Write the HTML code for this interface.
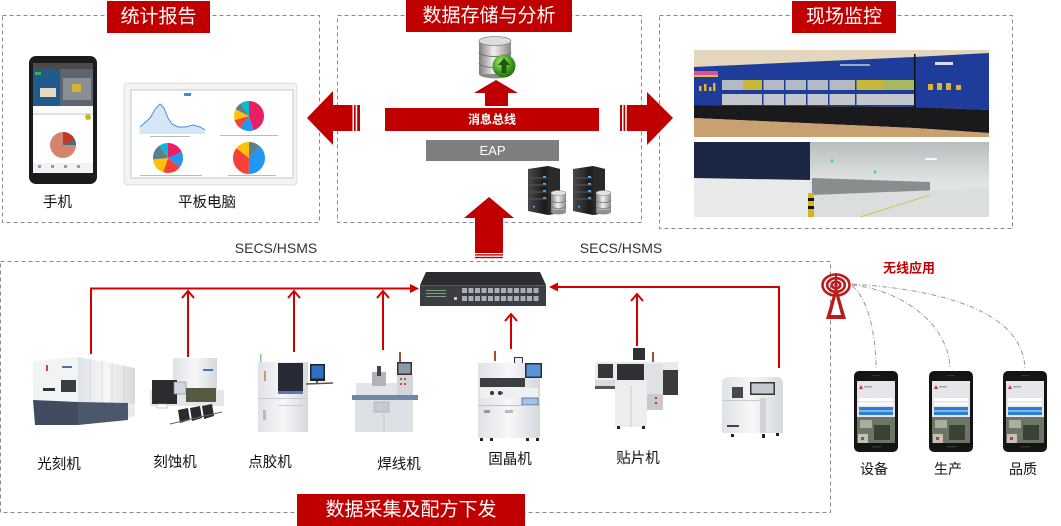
<!DOCTYPE html>
<html><head><meta charset="utf-8">
<style>
html,body{margin:0;padding:0;background:#fff;}
body{width:1061px;height:526px;overflow:hidden;position:relative;}
svg{position:absolute;left:0;top:0;}
text{font-family:"Liberation Sans","Noto Sans CJK SC",sans-serif;}
</style></head><body>
<svg width="1061" height="526" viewBox="0 0 1061 526" xmlns="http://www.w3.org/2000/svg">
<defs>
<linearGradient id="cyl" x1="0" x2="1" y1="0" y2="0">
<stop offset="0" stop-color="#7d7d7d"/><stop offset="0.45" stop-color="#f0f0f0"/><stop offset="1" stop-color="#8a8a8a"/>
</linearGradient>
<radialGradient id="grn" cx="0.4" cy="0.35" r="0.7">
<stop offset="0" stop-color="#b8f07a"/><stop offset="0.6" stop-color="#3e9e1e"/><stop offset="1" stop-color="#1f6a10"/>
</radialGradient>
<linearGradient id="srv" x1="0" x2="1" y1="0" y2="0">
<stop offset="0" stop-color="#4a4a4a"/><stop offset="0.5" stop-color="#1c1c1c"/><stop offset="1" stop-color="#333"/>
</linearGradient>
<linearGradient id="wh" x1="0" x2="1" y1="0" y2="0">
<stop offset="0" stop-color="#dfe2e6"/><stop offset="0.5" stop-color="#f6f7f8"/><stop offset="1" stop-color="#d5d8dc"/>
</linearGradient>
<linearGradient id="ware" x1="0" x2="0" y1="0" y2="1">
<stop offset="0" stop-color="#b9bcbd"/><stop offset="0.5" stop-color="#dfe2e2"/><stop offset="1" stop-color="#e9ecec"/>
</linearGradient>
</defs>

<!-- dashed frames -->
<g fill="none" stroke="#8a8a8a" stroke-width="1" stroke-dasharray="4 3">
<rect x="2.5" y="15.5" width="317" height="207"/>
<rect x="337.5" y="15.5" width="304" height="207"/>
<rect x="659.5" y="15.5" width="353" height="213"/>
<rect x="0.5" y="261.5" width="830" height="251"/>
</g>

<!-- title boxes -->
<g fill="#c00000">
<rect x="107" y="1" width="103" height="32"/>
<rect x="406" y="0" width="166" height="32"/>
<rect x="792" y="1" width="104" height="32"/>
<rect x="297" y="494" width="228" height="32"/>
</g>
<g fill="#fff" font-size="19" text-anchor="middle" dominant-baseline="central">
<text x="158.5" y="17">统计报告</text>
<text x="489" y="16">数据存储与分析</text>
<text x="844" y="17">现场监控</text>
<text x="411" y="510">数据采集及配方下发</text>
</g>

<!-- ===== top-left: phone ===== -->
<rect x="29" y="56" width="68" height="128" rx="7" fill="#1b1b1b"/>
<rect x="33" y="63" width="60" height="110" fill="#fff"/>
<rect x="33" y="63" width="60" height="6" fill="#4a4a4a"/>
<rect x="33" y="69" width="27" height="37" fill="#1f5b8c"/>
<rect x="35" y="72" width="6" height="3" fill="#3bb04a"/>
<rect x="40" y="88" width="16" height="9" fill="#e8d6c0"/>
<rect x="60" y="69" width="33" height="37" fill="#5c6670"/>
<rect x="63" y="78" width="28" height="22" fill="#8a8f94"/>
<rect x="72" y="84" width="9" height="8" fill="#d9b23a"/>
<rect x="33" y="106" width="60" height="7" fill="#fafafa"/>
<rect x="33" y="113" width="60" height="2" fill="#e0e0e0"/>
<circle cx="63" cy="145" r="13" fill="#d3846c"/>
<path d="M63,145 L63,132 A13,13 0 0,1 75,140 Z" fill="#c0392b"/>
<path d="M63,145 L75,140 A13,13 0 0,1 76,145 Z" fill="#3f6f7f"/>
<circle cx="88" cy="117" r="3" fill="#c8b820"/>
<rect x="33" y="163" width="60" height="10" fill="#f2f2f2"/>
<g fill="#7aa0c8"><rect x="38" y="165" width="3" height="3"/><rect x="51" y="165" width="3" height="3"/><rect x="64" y="165" width="3" height="3"/><rect x="77" y="165" width="3" height="3"/></g>

<!-- tablet -->
<rect x="124" y="83" width="173" height="102" rx="4" fill="#f3f3f3" stroke="#dcdcdc"/>
<rect x="131" y="90" width="162" height="88" fill="#fff" stroke="#c8c8c8"/>
<rect x="184" y="93" width="7" height="3" fill="#3a8ee0"/>
<path d="M139,134 L140,127 L150,118 L156,108 L160,104 L164,108 L168,118 L172,124 L178,127 L185,127 L193,125 L200,127 L205,130 L205,134 Z" fill="#d4e6f7"/>
<path d="M140,127 L150,118 L156,108 L160,104 L164,108 L168,118 L172,124 L178,127 L185,127 L193,125 L200,127 L205,130" fill="none" stroke="#4a90d9" stroke-width="1"/>
<g transform="translate(249,116) rotate(-90)" fill="none" stroke-width="15">
<circle r="7.5" stroke="#e91e63" stroke-dasharray="21.2 47.12"/>
<circle r="7.5" stroke="#2196f3" stroke-dasharray="7.07 47.12" stroke-dashoffset="-21.2"/>
<circle r="7.5" stroke="#f44336" stroke-dasharray="4.71 47.12" stroke-dashoffset="-28.27"/>
<circle r="7.5" stroke="#ffc107" stroke-dasharray="5.65 47.12" stroke-dashoffset="-32.98"/>
<circle r="7.5" stroke="#607d8b" stroke-dasharray="3.77 47.12" stroke-dashoffset="-38.63"/>
<circle r="7.5" stroke="#00bcd4" stroke-dasharray="4.71 47.12" stroke-dashoffset="-42.4"/>
</g>
<g transform="translate(168,158) rotate(-90)" fill="none" stroke-width="15">
<circle r="7.5" stroke="#e91e63" stroke-dasharray="8.48 47.12"/>
<circle r="7.5" stroke="#2196f3" stroke-dasharray="8.01 47.12" stroke-dashoffset="-8.48"/>
<circle r="7.5" stroke="#f44336" stroke-dasharray="9.42 47.12" stroke-dashoffset="-16.49"/>
<circle r="7.5" stroke="#ffc107" stroke-dasharray="8.48 47.12" stroke-dashoffset="-25.91"/>
<circle r="7.5" stroke="#607d8b" stroke-dasharray="8.01 47.12" stroke-dashoffset="-34.39"/>
<circle r="7.5" stroke="#00bcd4" stroke-dasharray="4.71 47.12" stroke-dashoffset="-42.4"/>
</g>
<g transform="translate(249,158) rotate(-90)" fill="none" stroke-width="16">
<circle r="8" stroke="#607d8b" stroke-dasharray="6.03 50.27"/>
<circle r="8" stroke="#2196f3" stroke-dasharray="19.1 50.27" stroke-dashoffset="-6.03"/>
<circle r="8" stroke="#f44336" stroke-dasharray="17.6 50.27" stroke-dashoffset="-25.13"/>
<circle r="8" stroke="#ffc107" stroke-dasharray="7.54 50.27" stroke-dashoffset="-42.73"/>
</g>
<g fill="#bbb"><rect x="150" y="136" width="40" height="1"/><rect x="220" y="135" width="58" height="1"/><rect x="140" y="175" width="62" height="1"/><rect x="228" y="175" width="48" height="1"/></g>

<g fill="#111" font-size="14.5" text-anchor="middle" dominant-baseline="central">
<text x="57.5" y="203">手机</text>
<text x="207" y="203">平板电脑</text>
</g>

<!-- ===== top-middle ===== -->
<rect x="479" y="41" width="32" height="33" fill="url(#cyl)"/>
<ellipse cx="495" cy="74" rx="16" ry="4.5" fill="#8a8a8a"/>
<rect x="479" y="41" width="32" height="33" fill="url(#cyl)"/>
<path d="M479,52 A16,4.5 0 0,0 511,52 M479,63 A16,4.5 0 0,0 511,63" fill="none" stroke="#707070" stroke-width="1"/>
<ellipse cx="495" cy="41" rx="16" ry="4.5" fill="#dcdcdc" stroke="#8a8a8a" stroke-width="0.8"/>
<circle cx="504" cy="66" r="11.5" fill="url(#grn)"/>
<path d="M504,58 L510,65 L506.5,65 L506.5,73 L501.5,73 L501.5,65 L498,65 Z" fill="#1d5a10"/>

<g fill="#c00000">
<polygon points="496,80 518,93 508,93 508,106 485,106 485,93 474,93"/>
<rect x="385" y="108" width="214" height="23"/>
<polygon points="307,118 333,91 333,105 352.5,105 352.5,131 333,131 333,145"/>
<rect x="354" y="105" width="1.7" height="26"/>
<rect x="357.2" y="105" width="2.8" height="26"/>
<rect x="620" y="105" width="2" height="26"/>
<rect x="623.5" y="105" width="1.7" height="26"/>
<polygon points="626.8,105 647,105 647,92 673,118 647,145 647,131 626.8,131"/>
<polygon points="489,197 514,218 503,218 503,253 475,253 475,218 464,218"/>
<rect x="475" y="254.2" width="28" height="1.4"/>
<rect x="475" y="256.8" width="28" height="1.4"/>
</g>
<text x="492" y="119.5" fill="#fff" font-size="12" font-weight="bold" text-anchor="middle" dominant-baseline="central">消息总线</text>
<rect x="426" y="140" width="133" height="21" fill="#7f7f7f"/>
<text x="492.5" y="150.5" fill="#fff" font-size="13" text-anchor="middle" dominant-baseline="central">EAP</text>

<!-- servers -->
<g>
<polygon points="528,169 548,166 560,169 560,213 548,215 528,211" fill="url(#srv)"/>
<polygon points="548,166 560,169 560,213 548,215" fill="#2a2a2a"/>
<g stroke="#5a5a5a" stroke-width="1"><line x1="530" y1="178" x2="547" y2="178"/><line x1="530" y1="185" x2="547" y2="185"/><line x1="530" y1="192" x2="547" y2="192"/><line x1="530" y1="199" x2="547" y2="199"/></g>
<g fill="#4fb0ff"><rect x="543" y="176" width="3" height="1.5"/><rect x="543" y="183" width="3" height="1.5"/><rect x="543" y="190" width="3" height="1.5"/><rect x="543" y="197" width="3" height="1.5"/><rect x="533" y="206" width="2" height="1.5"/></g>
<rect x="551" y="193" width="15" height="19" fill="url(#cyl)"/>
<ellipse cx="558.5" cy="193" rx="7.5" ry="2.5" fill="#e2e2e2" stroke="#888" stroke-width="0.6"/>
<ellipse cx="558.5" cy="212" rx="7.5" ry="2.5" fill="#909090"/>
<path d="M551,200 A7.5,2.5 0 0,0 566,200 M551,206 A7.5,2.5 0 0,0 566,206" fill="none" stroke="#777" stroke-width="0.7"/>
</g>
<g transform="translate(45,0)">
<polygon points="528,169 548,166 560,169 560,213 548,215 528,211" fill="url(#srv)"/>
<polygon points="548,166 560,169 560,213 548,215" fill="#2a2a2a"/>
<g stroke="#5a5a5a" stroke-width="1"><line x1="530" y1="178" x2="547" y2="178"/><line x1="530" y1="185" x2="547" y2="185"/><line x1="530" y1="192" x2="547" y2="192"/><line x1="530" y1="199" x2="547" y2="199"/></g>
<g fill="#4fb0ff"><rect x="543" y="176" width="3" height="1.5"/><rect x="543" y="183" width="3" height="1.5"/><rect x="543" y="190" width="3" height="1.5"/><rect x="543" y="197" width="3" height="1.5"/><rect x="533" y="206" width="2" height="1.5"/></g>
<rect x="551" y="193" width="15" height="19" fill="url(#cyl)"/>
<ellipse cx="558.5" cy="193" rx="7.5" ry="2.5" fill="#e2e2e2" stroke="#888" stroke-width="0.6"/>
<ellipse cx="558.5" cy="212" rx="7.5" ry="2.5" fill="#909090"/>
<path d="M551,200 A7.5,2.5 0 0,0 566,200 M551,206 A7.5,2.5 0 0,0 566,206" fill="none" stroke="#777" stroke-width="0.7"/>
</g>

<!-- ===== top-right photos ===== -->
<rect x="694" y="50" width="295" height="87" fill="#e4d6bd"/>
<polygon points="694,67 914,57 989,53 989,110 914,107 694,105" fill="#1e3c9a"/>
<polygon points="694,105 914,107 989,110 989,133 914,128 694,118" fill="#1a1a1c"/>
<polygon points="694,118 914,128 989,133 989,137 694,137" fill="#c9a070"/>
<rect x="722" y="80" width="192" height="10" fill="#b4b9c2"/>
<rect x="722" y="94" width="192" height="11" fill="#c2c6cd"/>
<rect x="743" y="80" width="20" height="10" fill="#c8b838"/>
<rect x="856" y="80" width="27" height="10" fill="#c8b838"/>
<rect x="883" y="80" width="31" height="10" fill="#a8b860"/>
<g fill="#1e3c9a"><rect x="762" y="80" width="1.5" height="25"/><rect x="784" y="80" width="1.5" height="25"/><rect x="806" y="80" width="1.5" height="25"/><rect x="828" y="80" width="1.5" height="25"/><rect x="855" y="80" width="1.5" height="25"/></g>
<rect x="694" y="71" width="24" height="4" fill="#e04e9a"/>
<rect x="694" y="75" width="24" height="2" fill="#d8c040"/>
<g fill="#e0b030"><rect x="699" y="86" width="2.5" height="5"/><rect x="704" y="84" width="2.5" height="7"/><rect x="709" y="87" width="2.5" height="4"/><rect x="713" y="83" width="2.5" height="8"/></g>
<g fill="#e0b030"><rect x="928" y="84" width="5" height="6"/><rect x="937" y="83" width="5" height="7"/><rect x="946" y="83" width="5" height="7"/><rect x="956" y="85" width="5" height="5"/></g>
<rect x="914" y="54" width="1.5" height="56" fill="#111"/>
<rect x="840" y="64" width="30" height="2" fill="#9ab"/>
<rect x="935" y="62" width="18" height="3" fill="#dde"/>

<rect x="694" y="142" width="295" height="75" fill="url(#ware)"/>
<rect x="694" y="142" width="116" height="75" fill="#e9eaea"/>
<polygon points="694,142 810,142 810,180 694,178" fill="#1c2746"/>
<polygon points="812,178 930,182 930,193 812,195" fill="#8a8d8e"/>
<polygon points="812,195 989,188 989,217 812,217" fill="#dadede"/>
<line x1="860" y1="217" x2="930" y2="195" stroke="#d8c050" stroke-width="1"/>
<rect x="808" y="193" width="6" height="24" fill="#d8b520"/>
<rect x="808" y="198" width="6" height="3" fill="#111"/><rect x="808" y="206" width="6" height="3" fill="#111"/>
<circle cx="832" cy="161" r="1.5" fill="#3ee06a"/><circle cx="875" cy="172" r="1.5" fill="#3ee06a"/>
<rect x="925" y="158" width="12" height="2" fill="#f6f6f6"/>

<!-- ===== bottom connectors ===== -->
<text x="276" y="248" fill="#333" font-size="14" text-anchor="middle" dominant-baseline="central">SECS/HSMS</text>
<text x="621" y="248" fill="#333" font-size="14" text-anchor="middle" dominant-baseline="central">SECS/HSMS</text>

<g stroke="#d40000" stroke-width="2" fill="none">
<polyline points="91,354 91,288.5 412,288.5"/>
<line x1="188" y1="357" x2="188" y2="291"/>
<polyline points="182,298 188,291 194,298"/>
<line x1="294" y1="352" x2="294" y2="291"/>
<polyline points="288,298 294,291 300,298"/>
<line x1="383" y1="350" x2="383" y2="291"/>
<polyline points="377,298 383,291 389,298"/>
<polyline points="779,368 779,287 556,287"/>
<line x1="637" y1="346" x2="637" y2="294"/>
<polyline points="631,301 637,294 643,301"/>
<line x1="511" y1="349" x2="511" y2="314"/>
<polyline points="505,321 511,314 517,321"/>
</g>
<polygon points="410,284 419,288.5 410,293" fill="#d40000"/>
<polygon points="558,282.5 549,287 558,291.5" fill="#d40000"/>

<!-- switch -->
<polygon points="426,272 540,272 546,285 420,285" fill="#2b2d31"/>
<rect x="420" y="285" width="126" height="21" fill="#3b3d42"/>
<rect x="420" y="285" width="126" height="1" fill="#5a5c60"/>
<g fill="#a9afb6">
<rect x="462" y="288" width="5" height="5"/><rect x="468.5" y="288" width="5" height="5"/><rect x="475" y="288" width="5" height="5"/><rect x="481.5" y="288" width="5" height="5"/><rect x="488" y="288" width="5" height="5"/><rect x="494.5" y="288" width="5" height="5"/><rect x="501" y="288" width="5" height="5"/><rect x="507.5" y="288" width="5" height="5"/><rect x="514" y="288" width="5" height="5"/><rect x="520.5" y="288" width="5" height="5"/><rect x="527" y="288" width="5" height="5"/><rect x="533.5" y="288" width="5" height="5"/>
<rect x="462" y="296" width="5" height="5"/><rect x="468.5" y="296" width="5" height="5"/><rect x="475" y="296" width="5" height="5"/><rect x="481.5" y="296" width="5" height="5"/><rect x="488" y="296" width="5" height="5"/><rect x="494.5" y="296" width="5" height="5"/><rect x="501" y="296" width="5" height="5"/><rect x="507.5" y="296" width="5" height="5"/><rect x="514" y="296" width="5" height="5"/><rect x="520.5" y="296" width="5" height="5"/><rect x="527" y="296" width="5" height="5"/><rect x="533.5" y="296" width="5" height="5"/>
</g>
<g fill="#7fa07a"><rect x="426" y="290" width="20" height="1"/><rect x="426" y="293" width="20" height="1"/><rect x="426" y="296" width="20" height="1"/></g>
<rect x="454" y="297" width="3" height="3" fill="#ccc"/>

<!-- machines -->
<!-- 光刻机 -->
<polygon points="33,361 78,357 78,402 33,400" fill="#f2f3f5"/>
<polygon points="78,357 135,368 135,404 78,404" fill="url(#wh)"/>
<g stroke="#cfd2d6" stroke-width="0.8"><line x1="90" y1="359" x2="90" y2="404"/><line x1="102" y1="361" x2="102" y2="404"/><line x1="112" y1="363" x2="112" y2="404"/><line x1="124" y1="365" x2="124" y2="404"/></g>
<polygon points="33,400 78,402 78,425 35,425" fill="#3f4c60"/>
<polygon points="78,402 128,403 128,420 78,425" fill="#4b576b"/>
<polygon points="128,403 135,404 135,416 128,418" fill="#e8eaec"/>
<rect x="61" y="380" width="15" height="12" fill="#3a3c40"/>
<rect x="43" y="388" width="12" height="3" fill="#333"/>
<rect x="46" y="365" width="2" height="6" fill="#c44"/>
<rect x="62" y="366" width="10" height="2" fill="#5070a0"/>

<!-- 刻蚀机 -->
<rect x="173" y="358" width="44" height="38" fill="url(#wh)"/>
<rect x="203" y="369" width="10" height="2" fill="#3a7acc"/>
<rect x="150" y="390" width="74" height="16" fill="#e4e6e8"/>
<rect x="152" y="380" width="25" height="24" fill="#2a2c30"/>
<rect x="174" y="382" width="12" height="12" fill="#cfd6de" stroke="#888" stroke-width="0.6"/>
<rect x="186" y="388" width="30" height="14" fill="#555a40"/>
<g fill="#2b2b2b"><polygon points="178,410 188,408 190,420 180,423"/><polygon points="190,408 200,406 202,418 192,421"/><polygon points="202,406 212,404 214,416 204,419"/></g>
<rect x="157" y="404" width="10" height="4" fill="#fff" stroke="#999" stroke-width="0.5"/>
<line x1="170" y1="424" x2="222" y2="412" stroke="#666" stroke-width="1"/>

<!-- 点胶机 -->
<rect x="260" y="354" width="1.5" height="9" fill="#7ad07a"/>
<rect x="258" y="362" width="50" height="70" fill="url(#wh)"/>
<rect x="278" y="363" width="25" height="28" fill="#262b36"/>
<rect x="278" y="391" width="25" height="3" fill="#5a7abc"/>
<rect x="258" y="398" width="50" height="1" fill="#c8cbd0"/>
<rect x="278" y="405" width="25" height="1" fill="#c8cbd0"/>
<rect x="264" y="371" width="2" height="10" fill="#c96"/>
<rect x="263" y="410" width="3" height="10" fill="#bbb"/>
<rect x="310" y="364" width="15" height="17" fill="#222"/>
<rect x="311.5" y="365.5" width="12" height="13" fill="#2f6fc8"/>
<line x1="306" y1="384" x2="333" y2="383" stroke="#555" stroke-width="1.5"/>
<rect x="316" y="381" width="2" height="3" fill="#555"/>

<!-- 焊线机 -->
<rect x="399" y="352" width="2" height="10" fill="#a05030"/>
<rect x="397" y="362" width="15" height="13" fill="#333"/>
<rect x="398.5" y="363.5" width="12" height="10" fill="#8c9aa8"/>
<rect x="397" y="375" width="16" height="20" fill="#d4d7da"/>
<g fill="#c44"><rect x="400" y="378" width="2" height="2"/><rect x="404" y="378" width="2" height="2"/><rect x="400" y="383" width="2" height="2"/><rect x="404" y="383" width="2" height="2"/></g>
<rect x="356" y="383" width="41" height="12" fill="#e2e5e8"/>
<rect x="372" y="372" width="14" height="14" fill="#b0b4ba"/>
<rect x="377" y="366" width="4" height="10" fill="#444"/>
<rect x="352" y="395" width="66" height="5" fill="#6e86a8"/>
<rect x="355" y="400" width="58" height="32" fill="#dde0e4"/>
<rect x="374" y="402" width="15" height="10" fill="#c8ccd0" stroke="#999" stroke-width="0.5"/>
<line x1="384" y1="400" x2="384" y2="432" stroke="#c0c4c8" stroke-width="0.8"/>

<!-- 固晶机 -->
<rect x="494" y="351" width="2" height="10" fill="#a05030"/>
<rect x="514" y="357" width="9" height="8" fill="#333"/><rect x="515" y="358" width="7" height="5" fill="#eee"/>
<rect x="478" y="363" width="62" height="75" fill="url(#wh)"/>
<rect x="480" y="378" width="45" height="9" fill="#3c3e42"/>
<rect x="480" y="388" width="58" height="10" fill="#eef0f2"/>
<g fill="#333"><circle cx="492" cy="393" r="2"/><circle cx="500" cy="393" r="2"/></g>
<circle cx="502" cy="393" r="1.2" fill="#c33"/>
<rect x="525" y="363" width="17" height="15" fill="#2a2e38"/>
<rect x="526.5" y="364.5" width="14" height="12" fill="#5a94d8"/>
<rect x="522" y="398" width="16" height="7" fill="#9ec4ea" stroke="#335" stroke-width="0.6"/>
<rect x="478" y="405" width="62" height="1" fill="#c0c4c8"/>
<rect x="484" y="410" width="6" height="3" fill="#999"/>
<rect x="505" y="410" width="8" height="3" fill="#bbb"/>
<g fill="#222"><rect x="480" y="438" width="3" height="3"/><rect x="490" y="438" width="3" height="3"/><rect x="526" y="438" width="3" height="3"/><rect x="536" y="438" width="3" height="3"/></g>

<!-- 贴片机 -->
<rect x="633" y="348" width="12" height="12" fill="#2f3034"/>
<rect x="652" y="352" width="2" height="10" fill="#a05030"/>
<rect x="595" y="362" width="83" height="20" fill="#e8eaec"/>
<rect x="598" y="364" width="15" height="14" fill="#35373b"/>
<rect x="617" y="364" width="27" height="16" fill="#2e3034"/>
<rect x="645" y="364" width="18" height="30" fill="#dfe1e4"/>
<rect x="663" y="370" width="15" height="25" fill="#3a3a3a"/>
<rect x="595" y="380" width="20" height="6" fill="#d8dadc"/>
<rect x="595" y="386" width="20" height="3" fill="#555"/>
<rect x="615" y="380" width="32" height="47" fill="#eceef0"/>
<line x1="631" y1="386" x2="631" y2="427" stroke="#c4c7cb" stroke-width="0.8"/>
<rect x="647" y="394" width="16" height="16" fill="#c8cacd"/>
<g fill="#c33"><rect x="655" y="397" width="2" height="2"/><rect x="655" y="402" width="2" height="2"/></g>
<g fill="#222"><rect x="617" y="426" width="3" height="3"/><rect x="642" y="426" width="3" height="3"/></g>

<!-- X-ray -->
<path d="M722,381 Q724,377 730,377 L778,377 Q783,378 783,384 L783,433 L722,433 Z" fill="url(#wh)"/>
<rect x="732" y="387" width="11" height="11" fill="#45484e"/>
<rect x="750" y="382" width="25" height="13" fill="#333"/>
<rect x="751.5" y="383.5" width="22" height="10" fill="#c4c8d0"/>
<rect x="760" y="398" width="6" height="35" fill="#cfd2d6"/>
<rect x="722" y="400" width="38" height="1" fill="#c8cbcf"/>
<rect x="727" y="425" width="12" height="2" fill="#444"/>
<g fill="#222"><rect x="731" y="434" width="3" height="3"/><rect x="762" y="434" width="3" height="4"/><rect x="776" y="433" width="3" height="3"/></g>

<g fill="#111" font-size="14.5" text-anchor="middle" dominant-baseline="central">
<text x="59" y="465">光刻机</text>
<text x="175" y="463">刻蚀机</text>
<text x="270" y="463">点胶机</text>
<text x="399" y="465">焊线机</text>
<text x="510" y="460">固晶机</text>
<text x="638" y="459">贴片机</text>
</g>

<!-- ===== wireless ===== -->
<g fill="none" stroke="#9a9a9a" stroke-width="1" stroke-dasharray="5 2 1 2">
<path d="M852,286 C866,296 876,330 876,368"/>
<path d="M852,285 C900,290 948,322 950,368"/>
<path d="M852,284 C945,290 1022,312 1025,368"/>
</g>
<line x1="836" y1="273" x2="836" y2="285" stroke="#b81c1c" stroke-width="2"/>
<g fill="none" stroke="#b81c1c" stroke-width="2.6">
<ellipse cx="836" cy="285" rx="13.5" ry="10.5"/>
<ellipse cx="836" cy="285" rx="8.8" ry="6.8"/>
<ellipse cx="836" cy="285" rx="4.3" ry="3.3"/>
</g>
<circle cx="836" cy="285" r="1.8" fill="#b81c1c"/>
<polygon points="836,285 846,319 826,319" fill="#b81c1c"/>
<polygon points="836,296 841,315 831,315" fill="#fff"/>
<text x="909" y="268" fill="#c00000" font-size="13" font-weight="bold" text-anchor="middle" dominant-baseline="central">无线应用</text>

<g>
<rect x="854" y="371" width="44" height="81" rx="5" fill="#141414"/>
<rect x="857" y="381" width="38" height="62" fill="#e6e6ea"/>
<polygon points="859,389 861,385 863,389" fill="#c33"/>
<rect x="864" y="386" width="8" height="1.5" fill="#9aa"/>
<rect x="859" y="398" width="34" height="3" fill="#fff"/>
<rect x="859" y="402.5" width="34" height="3" fill="#fff"/>
<rect x="859" y="407" width="34" height="3.5" fill="#2a7fd4"/>
<rect x="859" y="411.5" width="34" height="3.5" fill="#2a7fd4"/>
<rect x="857" y="417" width="38" height="26" fill="#6d7666"/>
<rect x="860" y="420" width="12" height="8" fill="#a8aea2"/>
<rect x="874" y="425" width="16" height="15" fill="#3a4236"/>
<rect x="858" y="434" width="10" height="9" fill="#c0c4b8"/>
<rect x="861" y="437" width="3" height="3" fill="#c33"/>
<rect x="872" y="446" width="9" height="1.5" fill="#333"/>
<rect x="872" y="375" width="8" height="1" fill="#333"/>
</g>
<g transform="translate(75,0)">
<rect x="854" y="371" width="44" height="81" rx="5" fill="#141414"/>
<rect x="857" y="381" width="38" height="62" fill="#e6e6ea"/>
<polygon points="859,389 861,385 863,389" fill="#c33"/>
<rect x="864" y="386" width="8" height="1.5" fill="#9aa"/>
<rect x="859" y="398" width="34" height="3" fill="#fff"/>
<rect x="859" y="402.5" width="34" height="3" fill="#fff"/>
<rect x="859" y="407" width="34" height="3.5" fill="#2a7fd4"/>
<rect x="859" y="411.5" width="34" height="3.5" fill="#2a7fd4"/>
<rect x="857" y="417" width="38" height="26" fill="#6d7666"/>
<rect x="860" y="420" width="12" height="8" fill="#a8aea2"/>
<rect x="874" y="425" width="16" height="15" fill="#3a4236"/>
<rect x="858" y="434" width="10" height="9" fill="#c0c4b8"/>
<rect x="861" y="437" width="3" height="3" fill="#c33"/>
<rect x="872" y="446" width="9" height="1.5" fill="#333"/>
<rect x="872" y="375" width="8" height="1" fill="#333"/>
</g>
<g transform="translate(149,0)">
<rect x="854" y="371" width="44" height="81" rx="5" fill="#141414"/>
<rect x="857" y="381" width="38" height="62" fill="#e6e6ea"/>
<polygon points="859,389 861,385 863,389" fill="#c33"/>
<rect x="864" y="386" width="8" height="1.5" fill="#9aa"/>
<rect x="859" y="398" width="34" height="3" fill="#fff"/>
<rect x="859" y="402.5" width="34" height="3" fill="#fff"/>
<rect x="859" y="407" width="34" height="3.5" fill="#2a7fd4"/>
<rect x="859" y="411.5" width="34" height="3.5" fill="#2a7fd4"/>
<rect x="857" y="417" width="38" height="26" fill="#6d7666"/>
<rect x="860" y="420" width="12" height="8" fill="#a8aea2"/>
<rect x="874" y="425" width="16" height="15" fill="#3a4236"/>
<rect x="858" y="434" width="10" height="9" fill="#c0c4b8"/>
<rect x="861" y="437" width="3" height="3" fill="#c33"/>
<rect x="872" y="446" width="9" height="1.5" fill="#333"/>
<rect x="872" y="375" width="8" height="1" fill="#333"/>
</g>
<g fill="#111" font-size="14" text-anchor="middle" dominant-baseline="central">
<text x="874" y="469">设备</text>
<text x="948" y="469">生产</text>
<text x="1023" y="469">品质</text>
</g>
</svg>
</body></html>
